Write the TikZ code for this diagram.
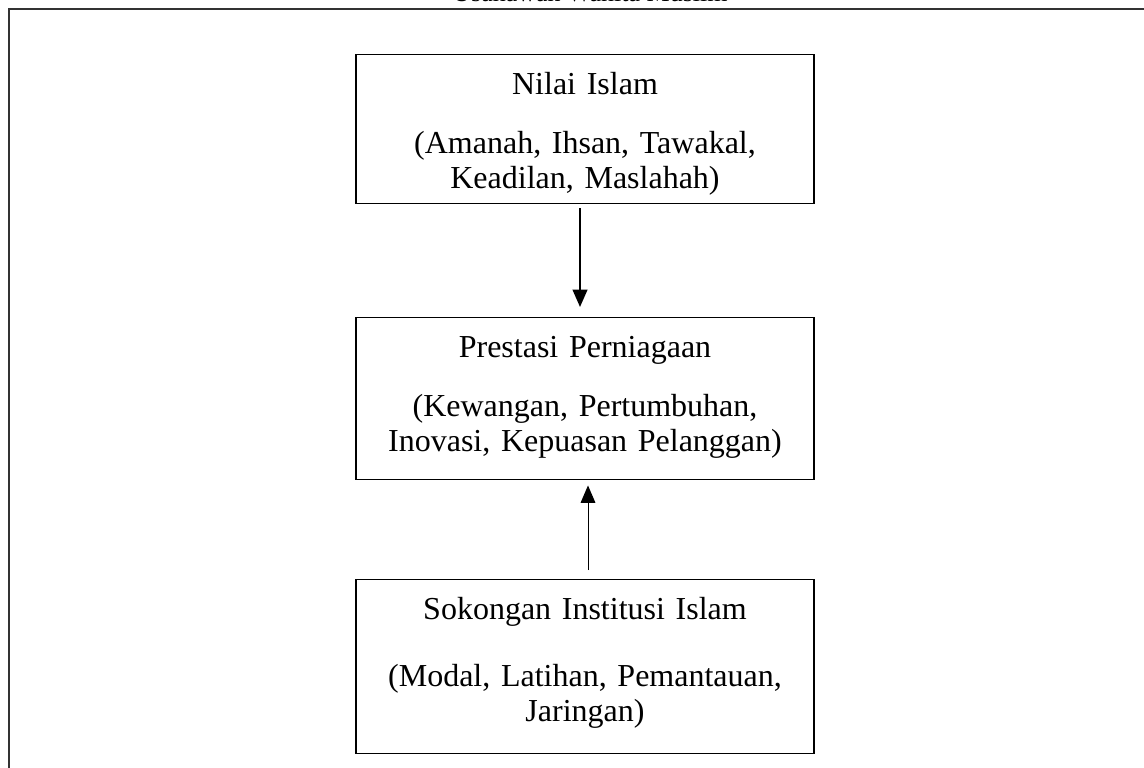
\documentclass[tikz,border=0pt]{standalone}
\usepackage{fontspec}
\setmainfont{Liberation Serif}
\usetikzlibrary{arrows.meta}
\tikzset{
  kotak/.style={draw,line width=1.1pt,anchor=north,text width=343.5pt,inner xsep=0pt,inner ysep=0pt,align=center,font=\fontsize{24}{26.25}\selectfont},
  panah/.style={-{Triangle[width=11pt,length=13pt]}}
}
\newcommand{\atas}{\rule{0pt}{30pt}}
\newcommand{\bawah}[1]{\rule[-#1]{0pt}{0pt}}

\begin{document}
\begin{tikzpicture}[x=0.75pt,y=-0.75pt]
\useasboundingbox (0,0) rectangle (1144,767);
\draw[line width=1.5pt,black!80] (9,780) -- (9,9) -- (1160,9);
\node[anchor=base,font=\fontsize{19.5}{22}\selectfont] (tajuk) at (590,1.5) {Usahawan Wanita Muslim};

\node[kotak] (nilai) at (585,54) {\atas Nilai Islam\\[18pt] (Amanah, Ihsan, Tawakal,\\ Keadilan, Maslahah)\bawah{11.25pt}};
\node[kotak] (prestasi) at (585,317) {\atas Prestasi Perniagaan\\[18pt] (Kewangan, Pertumbuhan,\\ Inovasi, Kepuasan Pelanggan)\bawah{21pt}};
\node[kotak] (sokongan) at (585,579) {\atas Sokongan Institusi Islam\\[24pt] (Modal, Latihan, Pemantauan,\\ Jaringan)\bawah{24pt}};

\draw[panah,line width=1.5pt] ([xshift=-3.75pt,yshift=-3pt]nilai.south) -- ([xshift=-3.75pt,yshift=7.5pt]prestasi.north);
\draw[panah,line width=0.75pt] ([xshift=2.25pt,yshift=6.75pt]sokongan.north) -- ([xshift=2.25pt,yshift=-3.75pt]prestasi.south);

\end{tikzpicture}
\end{document}
